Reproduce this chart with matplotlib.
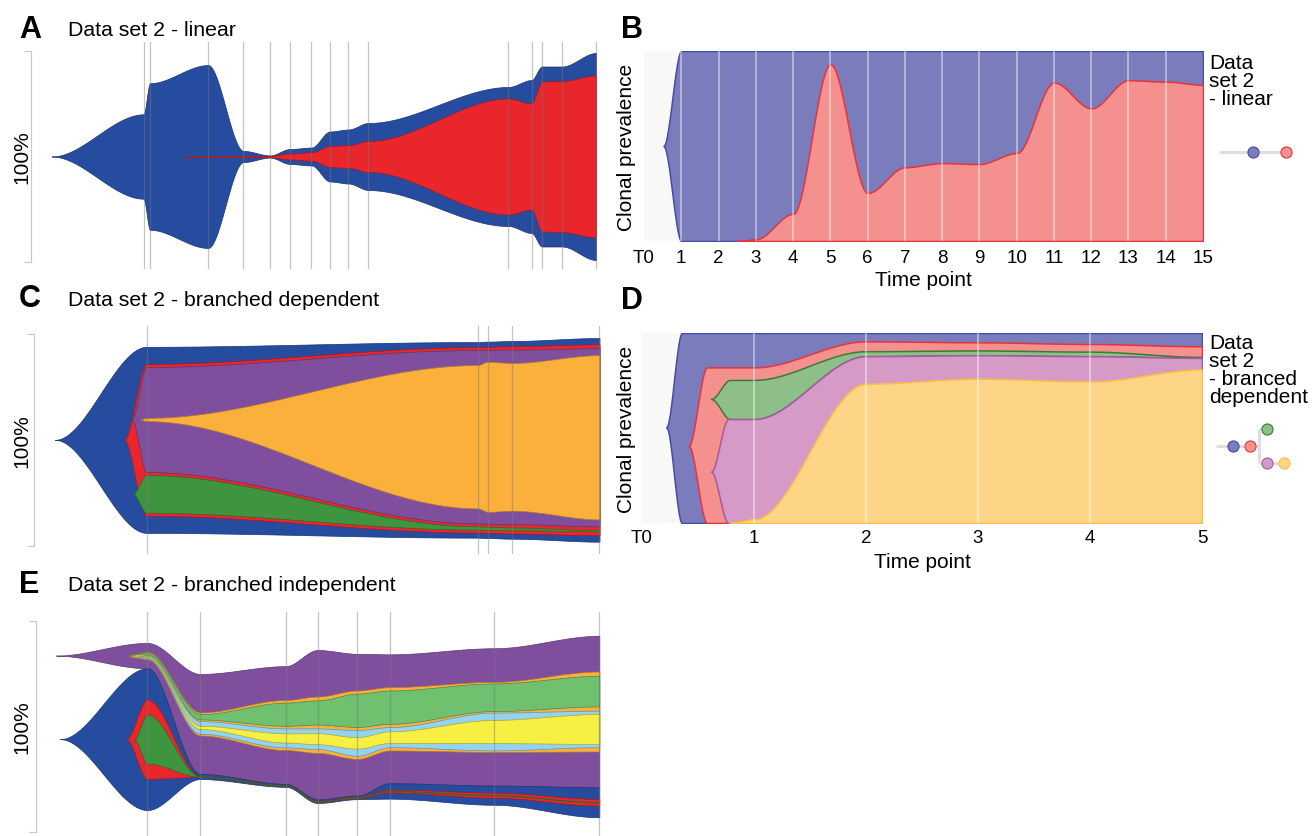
import numpy as np
import matplotlib.pyplot as plt

plt.rcParams['font.family'] = ['Liberation Sans', 'DejaVu Sans']

W, H = 1313, 837

# ---------------- A: fish plot, linear ----------------
# time of each sample (offset from T0) and clone size in % of the 100% bar
timesA = [92, 98.5, 156.5, 192, 218.5, 238.5, 260, 278.5, 297, 317,
          457, 480, 490.5, 510.5, 544.5]
blueA = [40, 69.5, 86.7, 5.3, 1.0, 7.1, 8.5, 23.7, 25.6, 31.8,
         65.9, 72.5, 85.3, 85.3, 98.1]
redA = [0, 0, 0.4, 0.6, 0.7, 2.8, 4.0, 10.0, 10.8, 14.7,
        55.0, 50.2, 71.1, 71.6, 76.8]
startA = {'blue': 0, 'red': 131.5}

# ---------------- C: fish plot, branched dependent ----------------
timesC = [91.5, 422.8, 432.7, 457.3, 544.5]
blueC = [87.9, 92.4, 92.8, 93.4, 96.2]
redC = [71.7, 87.6, 87.9, 88.5, 90.2]
purpleC = [49.6, 81.9, 82.2, 82.4, 84.1]
greenC = [17.8, 1.6, 1.5, 1.2, 0.6]
orangeC = [1.5, 67.7, 70.9, 69.8, 77.6]
startC = {'blue': 0, 'red': 69, 'purple': 76.7, 'green': 77.7, 'orange': 85}

# ---------------- E: fish plot, branched independent ----------------
timesE = [91.3, 144.3, 229.7, 261.7, 301.3, 334, 438.3, 543.3]
purpleE = [12.0, 47.4, 55.8, 70.8, 67.2, 61.1, 65.1, 71.8]
orangeE = [3.5, 10.9, 23.7, 26.7, 32.4, 30.0, 33.2, 37.9]
green2E = [0.9, 2.5, 11.0, 11.5, 15.8, 15.8, 13.1, 14.5]
lblueE = [1.4, 6.0, 9.0, 9.8, 12.2, 9.5, 17.9, 17.3]
yellowE = [0.4, 1.6, 4.4, 5.2, 5.4, 5.5, 11.0, 14.2]
blueE = [67.2, 2.4, 1.4, 1.7, 1.7, 7.3, 9.1, 14.2]
redE = [37.6, 0.5, 0.5, 0.6, 0.8, 1.4, 2.4, 3.2]
greenE = [23.2, 0.2, 0.2, 0.2, 0.2, 0.2, 0.3, 0.3]
startE = {'purple': 0, 'blue': 4, 'red': 70, 'green': 78,
          'orange': 72.3, 'green2': 74, 'lblue': 75, 'yellow': 77}

# ---------------- B: timescape, linear ----------------
ticksB = ['T0'] + [str(i) for i in range(1, 16)]
blueB = [100] * 15
redB = [0, 0, 0.9, 14.3, 93.0, 25.3, 38.8, 41.0, 40.5, 46.3,
        83.4, 69.8, 84.6, 83.9, 82.2]
# emergence: (x where clone appears, x where fully grown, y of the seed point)
emergeB = {'blue': (0.52, 1.0, 50), 'red': (2.5, 3.0, 0)}

# ---------------- D: timescape, branched dependent ----------------
ticksD = ['T0', '1', '2', '3', '4', '5']
blueD = [100] * 5
redD = [81.9, 95.6, 95.1, 94.2, 93.0]
greenD = [20.6, 2.6, 2.5, 2.4, 0.5]
pinkD = [54.7, 87.8, 88.3, 87.8, 86.9]
yellowD = [2.0, 73.3, 75.9, 74.5, 80.8]
emergeD = {'blue': (0.216, 0.356, 50.4), 'red': (0.415, 0.58, 40.7),
           'green': (0.617, 0.786, 65.3), 'pink': (0.617, 0.77, 27.0),
           'yellow': (0.786, 1.0, 0.0)}

fish_col = {'blue': '#264ca0', 'red': '#e8262c', 'purple': '#7f4f9e',
            'orange': '#fbb03b', 'green': '#3f9440', 'green2': '#6fc06f',
            'lblue': '#93d3ef', 'yellow': '#f7ef42'}
ts_col = {'blue': '#7a7cbb', 'red': '#f4908e', 'green': '#8fbf88',
          'pink': '#d59ac6', 'yellow': '#fdd586'}
ts_edge = {'blue': '#454bb0', 'red': '#e8333c', 'green': '#3b7b37',
           'pink': '#a45aa5', 'yellow': '#fbbf45'}


def darker(c, f=0.7):
    r, g, b = plt.matplotlib.colors.to_rgb(c)
    return (r * f, g * f, b * f)


def smooth_curve(xp, yp, x):
    xp = np.asarray(xp, float)
    yp = np.asarray(yp, float)
    i = np.clip(np.searchsorted(xp, x, side='right') - 1, 0, len(xp) - 2)
    u = np.clip((x - xp[i]) / (xp[i + 1] - xp[i]), 0, 1)
    s = u * u * (3 - 2 * u)
    return yp[i] + (yp[i + 1] - yp[i]) * s


def fish_layout(clones):
    names = [c[0] for c in clones]
    parent = {c[0]: c[1] for c in clones}
    width = {c[0]: np.asarray(c[2], float) for c in clones}
    top, bot = {}, {}
    roots = [n for n in names if parent[n] is None]
    cur = sum(width[r] for r in roots) / 2
    for r in roots:
        top[r] = cur
        bot[r] = cur - width[r]
        cur = bot[r]
    for n in names:
        kids = [k for k in names if parent[k] == n]
        if not kids:
            continue
        gap = (width[n] - sum(width[k] for k in kids)) / (len(kids) + 1)
        cur = top[n] - gap
        for k in kids:
            top[k] = cur
            bot[k] = cur - width[k]
            cur = bot[k] - gap
    return top, bot


def draw_fish(ax, clones, times, starts):
    top, bot = fish_layout(clones)
    times = np.asarray(times, float)
    for name, par, w in clones:
        w = np.asarray(w, float)
        first = int(np.argmax(w > 0))
        mid = (top[name][first] + bot[name][first]) / 2
        xs = starts[name]
        xp = np.r_[xs, times[first:]]
        yt = np.r_[mid, top[name][first:]]
        yb = np.r_[mid, bot[name][first:]]
        x = np.linspace(xs, times[-1], 2500)
        ax.fill_between(x, smooth_curve(xp, yb, x), smooth_curve(xp, yt, x),
                        facecolor=fish_col[name], edgecolor=darker(fish_col[name]),
                        lw=0.5)
    for t in times:
        ax.axvline(t, color='#7a7a7a', lw=0.9, alpha=0.45, zorder=10)


def draw_timescape(ax, clones, emerge):
    names = [c[0] for c in clones]
    parent = {c[0]: c[1] for c in clones}
    prev = {c[0]: np.asarray(c[2], float) for c in clones}
    top, bot = {}, {}
    for n in names:
        if parent[n] is None:
            bot[n] = np.zeros_like(prev[n])
            top[n] = prev[n]
        kids = [k for k in names if parent[k] == n]
        cur = bot[n]
        for k in reversed(kids):
            bot[k] = cur
            top[k] = cur + prev[k]
            cur = top[k]
    for name, par, p in clones:
        p = np.asarray(p, float)
        n = len(p)
        t = np.arange(1, n + 1, dtype=float)
        first = int(np.argmax(p > 0))
        xs, xf, ys = emerge[name]
        xp, yt, yb = [xs], [ys], [ys]
        if xf < t[first]:
            xp.append(xf)
            yt.append(top[name][first])
            yb.append(bot[name][first])
        xp += list(t[first:])
        yt += list(top[name][first:])
        yb += list(bot[name][first:])
        x = np.linspace(xs, n, 3000)
        ax.fill_between(x, smooth_curve(xp, yb, x), smooth_curve(xp, yt, x),
                        facecolor=ts_col[name], edgecolor=ts_edge[name], lw=1.1)
    for i in range(1, len(clones[0][2])):
        ax.axvline(i, color='white', lw=1.2, alpha=0.5, zorder=10)


def draw_tree(ax, nodes):
    # nodes: (name, parent); depth from chain, rows spread for branching
    parent = dict(nodes)
    names = [n for n, _ in nodes]
    depth, row = {}, {}
    for n in names:
        p = parent[n]
        depth[n] = 1 if p is None else depth[p] + 1
        if p is None:
            row[n] = 0
        else:
            sib = [k for k in names if parent[k] == p]
            row[n] = row[p] if len(sib) == 1 else row[p] + 2 * sib.index(n) - (len(sib) - 1)
    lc = dict(color='#dedede', lw=2.2, solid_capstyle='butt', zorder=1)
    for n in names:
        p = parent[n]
        if p is None:
            ax.plot([0, depth[n]], [row[n], row[n]], **lc)
        elif row[p] == row[n]:
            ax.plot([depth[p], depth[n]], [row[n], row[n]], **lc)
        else:
            e = depth[p] + 0.5
            ax.plot([depth[p], e], [row[p], row[p]], **lc)
            ax.plot([e, e], [row[p], row[n]], **lc)
            ax.plot([e, depth[n]], [row[n], row[n]], **lc)
    for n in names:
        ax.plot(depth[n], row[n], 'o', ms=8, mfc=ts_col[n], mec=ts_edge[n], mew=0.8, zorder=3)
    ax.axis('off')


fig = plt.figure(figsize=(W / 100, H / 100), dpi=100, facecolor='w')


def px_axes(x0, y0, x1, y1):
    return fig.add_axes([x0 / W, 1 - y1 / H, (x1 - x0) / W, (y1 - y0) / H])


def ftext(x, y, s, **kw):
    return fig.text(x / W, 1 - y / H, s, **kw)


def fish_axes(box, t0, bar):
    x0, y0, x1, y1 = box
    ax = px_axes(*box)
    c = (bar[0] + bar[1]) / 2
    k = (bar[1] - bar[0]) / 100.0
    ax.set_xlim(x0 - t0, x1 - t0)
    ax.set_ylim(-(y1 - c) / k, (c - y0) / k)
    ax.set_facecolor('none')
    for s in ['top', 'right', 'bottom']:
        ax.spines[s].set_visible(False)
    ax.spines['left'].set_bounds(-50, 50)
    ax.spines['left'].set_color('#c8c8c8')
    ax.set_yticks([-50, 50])
    ax.set_yticklabels([])
    ax.tick_params(axis='y', length=5, color='#c8c8c8')
    ax.set_xticks([])
    ftext(22, c, '100%', rotation=90, ha='center', va='center', fontsize=15)
    return ax


# panel A
axA = fish_axes((31, 43, 600, 270), 51.5, (52, 263))
draw_fish(axA, [('blue', None, blueA), ('red', 'blue', redA)], timesA, startA)

# panel C
axC = fish_axes((34, 327, 603, 555), 55, (335, 546.7))
draw_fish(axC, [('blue', None, blueC), ('red', 'blue', redC),
                ('purple', 'red', purpleC), ('green', 'red', greenC),
                ('orange', 'purple', orangeC)], timesC, startC)

# panel E
axE = fish_axes((36, 613, 603, 837), 56, (622, 833))
draw_fish(axE, [('purple', None, purpleE), ('blue', None, blueE),
                ('orange', 'purple', orangeE), ('green2', 'orange', green2E),
                ('lblue', 'orange', lblueE), ('yellow', 'lblue', yellowE),
                ('red', 'blue', redE), ('green', 'red', greenE)], timesE, startE)


def ts_axes(box, ticks, pad):
    ax = px_axes(*box)
    ax.set_xlim(0, len(ticks) - 1)
    ax.set_ylim(0, 100)
    ax.set_facecolor('#f8f8f6')
    for s in ax.spines.values():
        s.set_visible(False)
    ax.set_yticks([])
    ax.set_xticks(range(len(ticks)))
    ax.set_xticklabels(ticks, fontsize=13.5)
    ax.tick_params(axis='x', length=0, pad=pad)
    x0, y0, x1, y1 = box
    ftext(627, (y0 + y1) / 2, 'Clonal prevalence', rotation=90, ha='center',
          va='center', fontsize=15)
    ftext((x0 + x1) / 2, y1 + 39, 'Time point', ha='center', va='center', fontsize=15)
    return ax


axB = ts_axes((644, 52, 1203, 242), ticksB, 6)
draw_timescape(axB, [('blue', None, blueB), ('red', 'blue', redB)], emergeB)

axD = ts_axes((642, 334, 1202, 524), ticksD, 4)
draw_timescape(axD, [('blue', None, blueD), ('red', 'blue', redD),
                     ('green', 'red', greenD), ('pink', 'red', pinkD),
                     ('yellow', 'pink', yellowD)], emergeD)

# tree legends
tB = px_axes(1210, 140, 1295, 166)
tB.set_xlim((1210 - 1219) / 33.5, (1295 - 1219) / 33.5)
tB.set_ylim(0.5, -0.5)
draw_tree(tB, [('blue', None), ('red', 'blue')])

tD = px_axes(1208, 421, 1294, 473)
tD.set_xlim((1208 - 1216) / 17.0, (1294 - 1216) / 17.0)
tD.set_ylim(26 / 17.0, -26 / 17.0)
draw_tree(tD, [('blue', None), ('red', 'blue'), ('green', 'red'),
               ('pink', 'red'), ('yellow', 'pink')])

ftext(1209, 54, 'Data\nset 2\n- linear', ha='left', va='top', fontsize=15, linespacing=0.93)
ftext(1209, 334, 'Data\nset 2\n- branced\ndependent', ha='left', va='top',
      fontsize=15, linespacing=0.93)

# panel letters and titles
for lab, x, y in [('A', 19, 30), ('B', 621, 30), ('C', 19, 299), ('D', 621, 301), ('E', 19, 585)]:
    ftext(x, y, lab, fontsize=22, fontweight='bold', ha='left', va='center')
ftext(68, 31, 'Data set 2 - linear', fontsize=15.3, ha='left', va='center')
ftext(68, 300, 'Data set 2 - branched dependent', fontsize=15.3, ha='left', va='center')
ftext(68, 586, 'Data set 2 - branched independent', fontsize=15.3, ha='left', va='center')

fig.savefig('out.png', dpi=100, facecolor='w')
